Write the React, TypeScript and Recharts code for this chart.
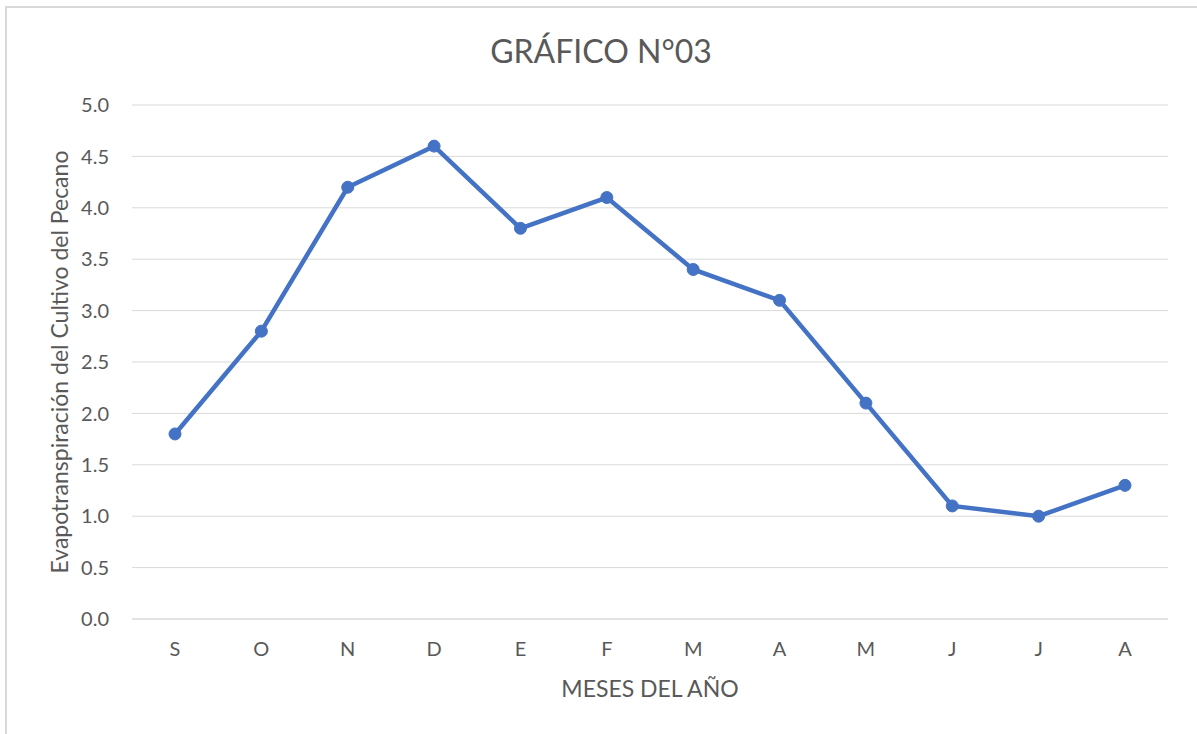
import React from "react";
import { LineChart, Line, XAxis, YAxis, CartesianGrid } from "recharts";

const months = ["S", "O", "N", "D", "E", "F", "M", "A", "M", "J", "J", "A"];
const etc = [1.8, 2.8, 4.2, 4.6, 3.8, 4.1, 3.4, 3.1, 2.1, 1.1, 1.0, 1.3];
const yTicks = [0, 0.5, 1, 1.5, 2, 2.5, 3, 3.5, 4, 4.5, 5];

const data = months.map((m, i) => ({ key: i, month: m, value: etc[i] }));

const FONT = "Lato, 'Open Sans', sans-serif";
const TEXT = "#595959";
const BLUE = "#4472C4";

export default function App() {
  return (
    <div style={{ position: "absolute", left: 0, top: 0, width: 1197, height: 734, background: "#fff", overflow: "hidden" }}>
      <div
        style={{
          position: "absolute",
          left: 5,
          top: 6,
          width: 1210,
          height: 750,
          border: "2px solid #d9d9d9",
        }}
      />
      <LineChart
        width={1197}
        height={734}
        data={data}
        margin={{ top: 105, right: 29, bottom: 35, left: 0 }}
        style={{ position: "absolute", left: 0, top: 0 }}
      >
        <CartesianGrid vertical={false} stroke="#d9d9d9" strokeWidth={1} />
        <XAxis
          dataKey="key"
          tickFormatter={(i) => months[i]}
          height={80}
          padding={{ left: 43, right: 43 }}
          tickLine={false}
          tickSize={0}
          tickMargin={23}
          axisLine={{ stroke: "#d9d9d9" }}
          tick={{ fill: TEXT, fontSize: 20, fontFamily: FONT }}
          interval={0}
          label={{
            value: "MESES DEL AÑO",
            position: "insideBottom",
            offset: 2,
            fill: TEXT,
            fontSize: 23,
            fontFamily: FONT,
          }}
        />
        <YAxis
          domain={[0, 5]}
          ticks={yTicks}
          tickFormatter={(v) => v.toFixed(1)}
          width={132}
          axisLine={false}
          tickLine={false}
          tickSize={0}
          tickMargin={23}
          tick={{ fill: TEXT, fontSize: 20, fontFamily: FONT }}
          label={{
            value: "Evapotranspiración del Cultivo del Pecano",
            angle: -90,
            position: "insideLeft",
            offset: 60,
            fill: TEXT,
            fontSize: 23,
            fontFamily: FONT,
            style: { textAnchor: "middle" },
          }}
        />
        <Line
          type="linear"
          dataKey="value"
          stroke={BLUE}
          strokeWidth={4.5}
          dot={{ r: 6, fill: BLUE, stroke: BLUE, strokeWidth: 1 }}
          activeDot={false}
          isAnimationActive={false}
        />
      </LineChart>
      <svg width={1197} height={100} style={{ position: "absolute", left: 0, top: 0 }}>
        <text x={601} y={63} textAnchor="middle" fill={TEXT} fontSize={32} fontFamily={FONT}>
          GRÁFICO N°03
        </text>
      </svg>
    </div>
  );
}
